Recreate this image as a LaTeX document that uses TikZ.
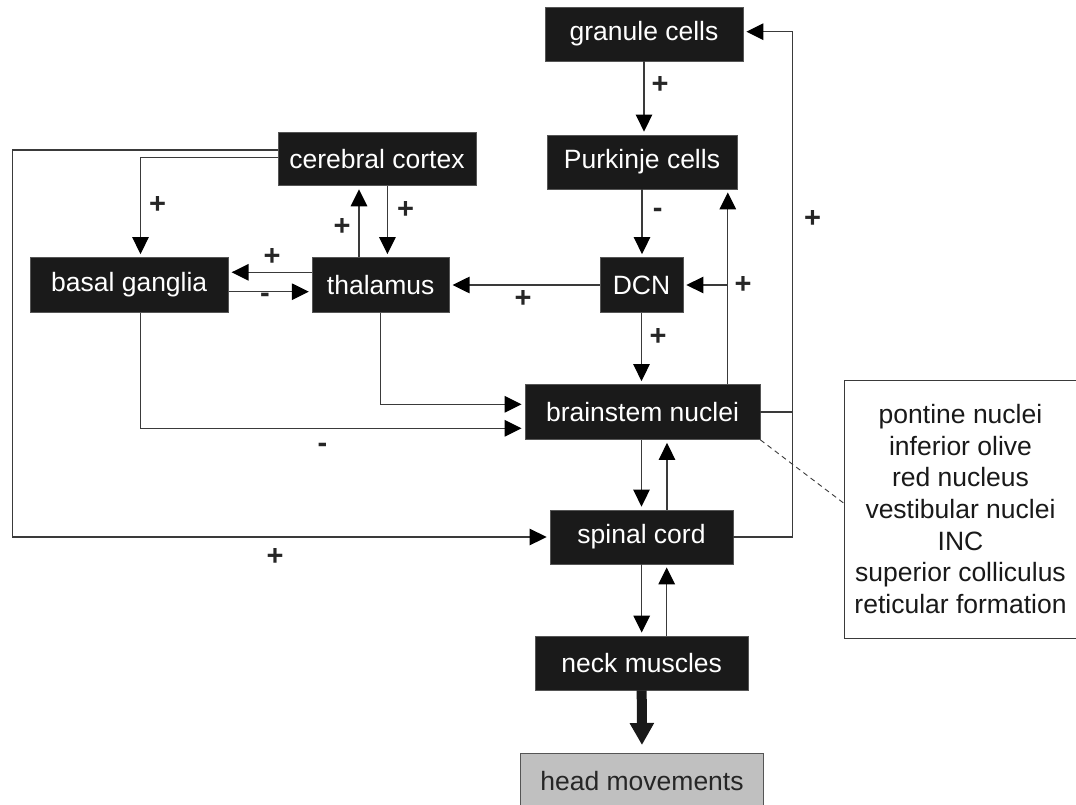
\documentclass[tikz,border=0pt]{standalone}
\usepackage{fontspec}
\setmainfont{Liberation Sans}
\usetikzlibrary{arrows.meta}
\definecolor{boxfill}{HTML}{1A1A1A}
\definecolor{boxline}{HTML}{555555}
\definecolor{linecol}{HTML}{3A3A3A}
\definecolor{headfill}{HTML}{C0C0C0}
\newcommand\boxfont{\fontsize{26.5}{31.7}\selectfont}
\newcommand\signfont{\fontsize{29}{33}\selectfont\bfseries}
\begin{document}
\begin{tikzpicture}[x=1pt,y=-1pt,
  blk/.style={fill=boxfill,draw=boxline,line width=0.8pt,text=white,inner sep=0pt,font=\boxfont,anchor=center},
  conn/.style={draw=linecol,line width=1.3pt},
  arr/.style={conn,-{Triangle[length=17pt,width=16.5pt,color=black]},shorten >=3pt},
  sgn/.style={font=\signfont,inner sep=0pt,text=black!85}]
\useasboundingbox[fill=white] (0,0) rectangle (1076,805);

% boxes
\node[blk,minimum width=198pt,minimum height=54pt] (gran) at (644,34) {granule cells};
\node[blk,minimum width=190pt,minimum height=54pt] (purk) at (642,162) {Purkinje cells};
\node[blk,minimum width=198pt,minimum height=53pt] (cort) at (377,159.4) {cerebral cortex};
\node[blk,minimum width=198pt,minimum height=55pt] (basal) at (129.2,285) {basal ganglia};
\node[blk,minimum width=137pt,minimum height=55pt] (thal) at (380.7,285) {thalamus};
\node[blk,minimum width=83pt,minimum height=55pt] (dcn) at (641.5,285) {DCN};
\node[blk,minimum width=235pt,minimum height=55pt] (brain) at (642.5,412) {brainstem nuclei};
\node[blk,minimum width=183pt,minimum height=54pt] (spinal) at (641.5,537) {spinal cord};
\node[blk,minimum width=213pt,minimum height=54pt] (neck) at (641.7,663) {neck muscles};
\node[fill=headfill,draw=boxline,line width=1pt,inner sep=0pt,font=\boxfont,text=black!85,
      minimum width=243pt,minimum height=56pt] (head) at (642,781.5) {head movements};
\node[draw=linecol,line width=1pt,fill=white,inner sep=0pt,font=\boxfont,text=black!90,align=center,
      minimum width=233pt,minimum height=258pt] (info) at (960.5,509)
      {pontine nuclei\\inferior olive\\red nucleus\\vestibular nuclei\\INC\\superior colliculus\\reticular formation};

% helper coordinates
\coordinate (leftx) at (12.7,0);
\coordinate (rightx) at (792.8,0);
\coordinate (bgx) at (140.5,0);
\coordinate (vx) at (727.8,0);

% cerebellar column
\draw[arr] (gran.south) -- (gran.south |- purk.north);
\draw[arr] (purk.south) -- (purk.south |- dcn.north);
\draw[arr] (dcn.south) -- (dcn.south |- brain.north);
\draw[arr] (brain.south -| spinal.center) -- (spinal.north);
\draw[arr] ([xshift=25.5pt]spinal.north) -- ([xshift=25.5pt]spinal.north |- brain.south);
\draw[arr] (spinal.south) -- (spinal.south -| neck.center) -- (neck.north);
\draw[arr] ([xshift=25pt]neck.north) -- ([xshift=25pt]neck.north |- spinal.south);
\draw[draw=black!90,line width=10pt,-{Triangle[length=22pt,width=23pt]},shorten >=8pt] (neck.south) -- (head.north);

% feedback from brainstem to Purkinje and DCN
\draw[arr] (brain.north -| vx) -- (purk.south -| vx);
\draw[arr] (dcn.east -| vx) -- (dcn.east);

% pathway to granule cells
\draw[conn] (brain.east) -- (brain.east -| rightx);
\draw[conn] (spinal.east) -- (spinal.east -| rightx);
\draw[arr] (spinal.east -| rightx) -- ([yshift=2.3pt]gran.east -| rightx) -- ([yshift=2.3pt]gran.east);

% cortex connections
\draw[arr] ([yshift=1.7pt]cort.west) -- ([yshift=1.7pt]cort.west -| bgx) -- (basal.north -| bgx);
\draw[arr] ([yshift=9.4pt]cort.west) -- ([yshift=9.4pt]cort.west -| leftx) -- (spinal.west -| leftx) -- (spinal.west);
\draw[arr] ([xshift=-21.7pt]thal.north) -- ([xshift=-21.7pt]thal.north |- cort.south);
\draw[arr] ([xshift=6.7pt]thal.north |- cort.south) -- ([xshift=6.7pt]thal.north);

% thalamus / basal ganglia
\draw[arr] ([yshift=12.7pt]thal.west) -- ([yshift=12.7pt]basal.east);
\draw[arr] ([yshift=-6.7pt]basal.east) -- ([yshift=-6.7pt]thal.west);
\draw[arr] (dcn.west) -- (dcn.west -| thal.east);

% to brainstem
\draw[arr] (thal.south) -- ([yshift=7.7pt]brain.west -| thal.south) -- ([yshift=7.7pt]brain.west);
\draw[arr] (basal.south -| bgx) -- ([yshift=-16.3pt]brain.west -| bgx) -- ([yshift=-16.3pt]brain.west);

% dashed pointer
\draw[draw=linecol,line width=0.9pt,dash pattern=on 5pt off 4pt] (brain.south east) -- ([yshift=6pt]info.west);

% signs
\node[sgn] (s1) at (660,85) {+};
\node[sgn] (s2) at (657.7,213) {-};
\node[sgn] (s3) at (812.7,219) {+};
\node[sgn] (s4) at (743,285) {+};
\node[sgn] (s5) at (523,299) {+};
\node[sgn] (s6) at (658,336.7) {+};
\node[sgn] (s7) at (157.7,205) {+};
\node[sgn] (s8) at (342,226.7) {+};
\node[sgn] (s9) at (405.6,210) {+};
\node[sgn] (s10) at (272,256.7) {+};
\node[sgn] (s11) at (265,298.3) {-};
\node[sgn] (s12) at (322.5,448) {-};
\node[sgn] (s13) at (275,556.7) {+};
\end{tikzpicture}
\end{document}
